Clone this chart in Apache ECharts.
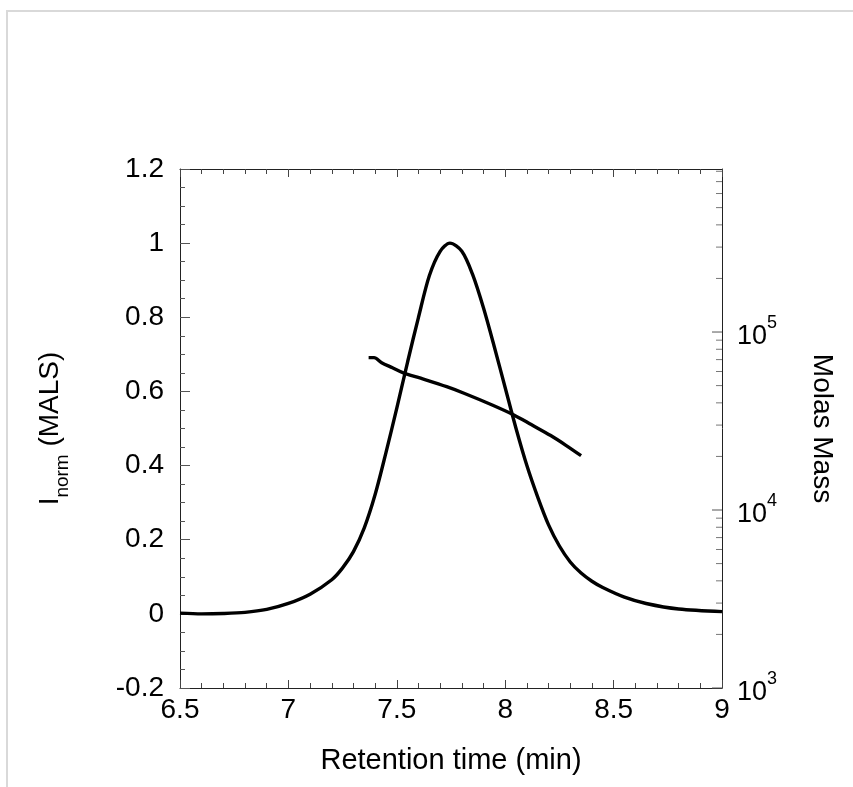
<!DOCTYPE html>
<html>
<head>
<meta charset="utf-8">
<script src="https://cdn.jsdelivr.net/npm/echarts@6/dist/echarts.min.js"></script>
<style>
html,body{margin:0;padding:0;background:#fff;}
#chart{width:853px;height:787px;}
</style>
</head>
<body>
<div id="chart"></div>
<script>
// MALS normalized intensity vs retention time
const malsTime = [6.50, 6.60, 6.70, 6.80, 6.90, 7.00, 7.10, 7.20, 7.25, 7.30, 7.35, 7.40, 7.45, 7.50, 7.55, 7.60, 7.65, 7.70, 7.745, 7.80, 7.85, 7.90, 7.95, 8.00, 8.05, 8.10, 8.15, 8.20, 8.25, 8.30, 8.35, 8.40, 8.45, 8.55, 8.65, 8.80, 9.00];
const malsValue = [0.002, 0.000, 0.001, 0.004, 0.012, 0.028, 0.053, 0.092, 0.124, 0.168, 0.232, 0.322, 0.435, 0.555, 0.680, 0.800, 0.912, 0.978, 1.000, 0.978, 0.915, 0.825, 0.720, 0.610, 0.500, 0.400, 0.315, 0.240, 0.183, 0.140, 0.110, 0.088, 0.071, 0.045, 0.028, 0.013, 0.006];
// Molar mass vs retention time
const massTime = [7.37, 7.395, 7.43, 7.48, 7.53, 7.61, 7.73, 7.81, 7.94, 8.04, 8.12, 8.21, 8.28, 8.35];
const massValue = [71800, 71800, 67200, 63000, 59000, 55000, 49300, 45300, 38900, 34200, 30200, 26200, 23100, 20200];
// axis settings
const xTicks = [6.5, 7, 7.5, 8, 8.5, 9];
const yLeftTicks = [-0.2, 0, 0.2, 0.4, 0.6, 0.8, 1, 1.2];
const massDecades = [1000, 10000, 100000];
const massMax = 824000;
const massMinorTicks = [2000,3000,4000,5000,6000,7000,8000,9000,20000,30000,40000,50000,60000,70000,80000,90000,200000,300000,400000,500000,600000,700000,800000];

const FONT = '"Liberation Sans", Arial, sans-serif';
const chart = echarts.init(document.getElementById('chart'), null, {renderer: 'canvas'});

const zip = (a, b) => a.map((v, i) => [v, b[i]]);

const option = {
  backgroundColor: '#fff',
  animation: false,
  textStyle: {fontFamily: FONT, color: '#000'},
  grid: {left: 180, right: 131, top: 169, bottom: 99, containLabel: false, outerBoundsMode: 'none'},
  xAxis: [{
    type: 'value', position: 'bottom', min: xTicks[0], max: xTicks[xTicks.length - 1], interval: 0.5,
    axisLine: {show: true, onZero: false, lineStyle: {color: '#222', width: 1}},
    axisTick: {show: true, inside: true, length: 8, lineStyle: {color: '#444'}},
    minorTick: {show: true, splitNumber: 5, length: 5, lineStyle: {color: '#444'}},
    splitLine: {show: false},
    axisLabel: {fontSize: 28, color: '#000', margin: 8, fontFamily: FONT},
    name: 'Retention time (min)', nameLocation: 'middle', nameGap: 58,
    nameTextStyle: {fontSize: 29, color: '#000', fontFamily: FONT}
  }, {
    type: 'value', position: 'top', min: xTicks[0], max: xTicks[xTicks.length - 1], interval: 0.5,
    axisLine: {show: true, onZero: false, lineStyle: {color: '#222', width: 1}},
    axisTick: {show: true, inside: true, length: 8, lineStyle: {color: '#444'}},
    minorTick: {show: true, splitNumber: 5, length: 5, lineStyle: {color: '#444'}},
    splitLine: {show: false},
    axisLabel: {show: false}
  }],
  yAxis: [{
    type: 'value', position: 'left', min: yLeftTicks[0], max: yLeftTicks[yLeftTicks.length - 1], interval: 0.2,
    axisLine: {show: true, onZero: false, lineStyle: {color: '#222', width: 1}},
    axisTick: {show: true, inside: true, length: 10, lineStyle: {color: '#555'}},
    minorTick: {show: true, splitNumber: 4, length: 5, lineStyle: {color: '#555'}},
    splitLine: {show: false},
    axisLabel: {fontSize: 28, color: '#000', margin: 16, fontFamily: FONT},
    name: '{m|I}{s|norm}{m| (MALS)}', nameLocation: 'middle', nameGap: 108, nameRotate: 90,
    nameTextStyle: {
      color: '#000', fontFamily: FONT,
      rich: {
        m: {fontSize: 28, lineHeight: 44, verticalAlign: 'middle', fontFamily: FONT, color: '#000'},
        s: {fontSize: 19, lineHeight: 44, verticalAlign: 'bottom', fontFamily: FONT, color: '#000'}
      }
    }
  }, {
    type: 'log', logBase: 10, position: 'right', min: massDecades[0], max: massMax,
    axisLine: {show: true, onZero: false, lineStyle: {color: '#222', width: 1}},
    axisTick: {show: false},
    minorTick: {show: false},
    splitLine: {show: false},
    axisLabel: {
      margin: 15, showMaxLabel: false, fontFamily: FONT,
      formatter: function (v) {
        const l = Math.log10(v);
        const e = Math.round(l);
        if (Math.abs(l - e) > 1e-6) return '';
        return '{b|10}{s|' + e + '}';
      },
      rich: {
        b: {fontSize: 27, lineHeight: 36, verticalAlign: 'bottom', fontFamily: FONT, color: '#000'},
        s: {fontSize: 18, lineHeight: 36, verticalAlign: 'top', fontFamily: FONT, color: '#000'}
      }
    },
    name: 'Molas Mass', nameLocation: 'middle', nameGap: 86, nameRotate: -90,
    nameTextStyle: {fontSize: 28, color: '#000', fontFamily: FONT}
  }],
  series: [{
    type: 'line', name: 'MALS', xAxisIndex: 0, yAxisIndex: 0,
    data: zip(malsTime, malsValue), smooth: 0.3, showSymbol: false,
    lineStyle: {color: '#000', width: 3.4}
  }, {
    type: 'line', name: 'Molar mass', xAxisIndex: 0, yAxisIndex: 1,
    data: zip(massTime, massValue), smooth: 0.3, showSymbol: false,
    lineStyle: {color: '#000', width: 3.4}
  }]
};
chart.setOption(option);

function drawExtras() {
  const els = [];
  // outer light frame
  els.push({type: 'rect', shape: {x: 7, y: 11, width: 900, height: 900}, style: {fill: null, stroke: '#d9d9d9', lineWidth: 2}, silent: true, z: 0});
  const xRight = chart.convertToPixel({xAxisIndex: 0}, xTicks[xTicks.length - 1]);
  massDecades.forEach(v => {
    const y = chart.convertToPixel({yAxisIndex: 1}, v);
    els.push({type: 'line', shape: {x1: xRight - 10, y1: y, x2: xRight, y2: y}, style: {stroke: '#555', lineWidth: 1}, silent: true, z: 5});
  });
  massMinorTicks.forEach(v => {
    const y = chart.convertToPixel({yAxisIndex: 1}, v);
    els.push({type: 'line', shape: {x1: xRight - 6, y1: y, x2: xRight, y2: y}, style: {stroke: '#777', lineWidth: 1}, silent: true, z: 5});
  });
  chart.setOption({graphic: {elements: els}});
}
drawExtras();
</script>
</body>
</html>
